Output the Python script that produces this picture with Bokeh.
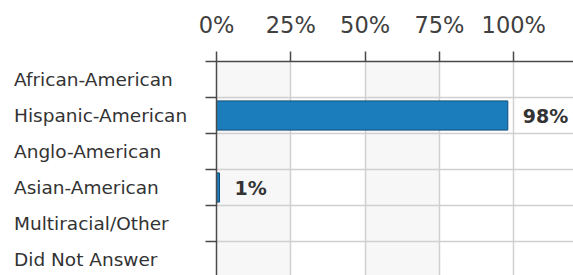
from bokeh.plotting import figure
from bokeh.layouts import row
from bokeh.models import Range1d, FixedTicker, ColumnDataSource, BoxAnnotation
from bokeh.embed import file_html
from bokeh.resources import INLINE
from bokeh.core.properties import value

categories = ["African-American", "Hispanic-American", "Anglo-American",
              "Asian-American", "Multiracial/Other", "Did Not Answer"]
percent_values = [0, 98, 0, 1, 0, 0]
tick_values = [0, 25, 50, 75, 100]
tick_labels = ["0%", "25%", "50%", "75%", "100%"]

n = len(categories)
centers = [i + 0.5 for i in range(n)]
boundaries = list(range(n + 1))

TOP = 61
H = 275
LEFT_W = 196
yr = Range1d((H - TOP) / 36, 0)
X_END = 120.1

# main plot
p = figure(width=573 - LEFT_W, height=H, output_backend="svg", toolbar_location=None,
           x_range=Range1d(0, X_END), y_range=yr,
           x_axis_location="above",
           min_border_left=20, min_border_top=TOP, min_border_bottom=0, min_border_right=0)
p.outline_line_color = None
p.background_fill_color = "white"
p.border_fill_color = "white"

# alternating light bands between ticks (0-25, 50-75), below the grid lines
for k in range(0, len(tick_values) - 1, 2):
    p.add_layout(BoxAnnotation(left=tick_values[k], right=tick_values[k + 1],
                               fill_color="#f7f7f7", fill_alpha=1,
                               line_color=None, level="image"))

p.xgrid.ticker = FixedTicker(ticks=tick_values)
p.xgrid.grid_line_color = "#d0d0d0"
p.xgrid.grid_line_width = 1.5
p.ygrid.ticker = FixedTicker(ticks=boundaries)
p.ygrid.grid_line_color = "#d0d0d0"
p.ygrid.grid_line_width = 1.5

# top axis
xa = p.xaxis[0]
xa.ticker = FixedTicker(ticks=tick_values)
xa.major_label_overrides = {v: t for v, t in zip(tick_values, tick_labels)}
xa.major_label_text_font = "DejaVu Sans"
xa.major_label_text_font_size = "22.5px"
xa.major_label_text_color = "#404040"
xa.major_label_standoff = 14
xa.major_tick_out = 10
xa.major_tick_in = 0
xa.minor_tick_line_color = None
xa.axis_line_color = "#4a4a4a"
xa.axis_line_width = 1.5
xa.major_tick_line_color = "#4a4a4a"
xa.major_tick_line_width = 1.5

# left axis: ticks at row boundaries (labels are drawn in the left panel)
ya = p.yaxis[0]
ya.ticker = FixedTicker(ticks=boundaries)
ya.major_label_overrides = {b: "" for b in boundaries}
ya.major_label_standoff = 0
ya.major_tick_out = 11
ya.major_tick_in = 0
ya.minor_tick_line_color = None
ya.axis_line_color = "#4a4a4a"
ya.axis_line_width = 1.5
ya.major_tick_line_color = "#4a4a4a"
ya.major_tick_line_width = 1.5

shown = [i for i, v in enumerate(percent_values) if v > 0]
bar_src = ColumnDataSource(dict(y=[centers[i] for i in shown],
                                v=[percent_values[i] for i in shown],
                                t=["%d%%" % percent_values[i] for i in shown]))
p.hbar(y="y", right="v", left=0, height=0.81, source=bar_src,
       fill_color="#1c7dbd", line_color="#0f4c78", line_width=1)
p.text(x="v", y="y", text="t", source=bar_src, x_offset=15,
       text_align="left", text_baseline="middle",
       text_font=value("DejaVu Sans"), text_font_style="bold",
       text_font_size="19px", text_color="#333333")

# left panel: category labels, left aligned
q = figure(width=LEFT_W, height=H, output_backend="svg", toolbar_location=None,
           x_range=Range1d(0, LEFT_W), y_range=yr,
           min_border_left=0, min_border_top=TOP, min_border_bottom=0, min_border_right=0)
q.outline_line_color = None
q.xaxis.visible = False
q.yaxis.visible = False
q.grid.visible = False
q.background_fill_color = "white"
q.border_fill_color = "white"

cat_src = ColumnDataSource(dict(x=[13.5] * n, y=centers, t=categories))
q.text(x="x", y="y", text="t", source=cat_src,
       text_align="left", text_baseline="middle",
       text_font=value("DejaVu Sans"), text_font_size="18.5px", text_color="#333333")

layout = row(q, p, spacing=0)
open("out.html", "w").write(file_html(layout, INLINE))
